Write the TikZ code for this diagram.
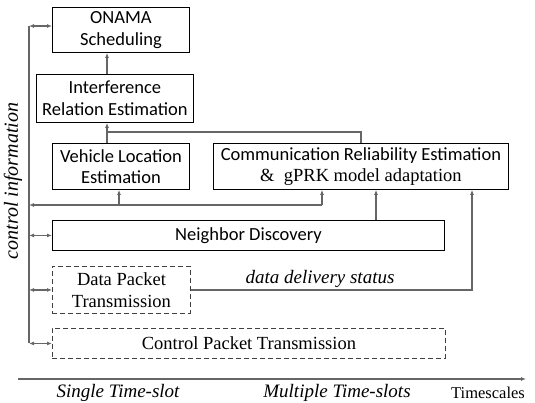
\documentclass[tikz,border=0pt]{standalone}
\usepackage{fontspec}
\setmainfont{Liberation Serif}
\newfontfamily\boxsans{Carlito}
\usetikzlibrary{arrows.meta,calc}

\tikzset{
  wire/.style={draw=black!60, line width=1.1pt},
  tip/.style={-{Latex[length=5pt,width=4pt]}},
  twotip/.style={{Latex[length=5pt,width=4pt]}-{Latex[length=5pt,width=4pt]}},
  sbox/.style={draw=black, line width=0.9pt, anchor=north west, inner sep=0pt,
               align=center, font=\boxsans\fontsize{18.5}{21.5}\selectfont},
  dbox/.style={draw=black!75, line width=0.9pt, dashed, dash pattern=on 5pt off 3pt,
               anchor=north west, inner sep=0pt, align=center,
               font=\fontsize{18.5}{21.5}\selectfont},
  lbl/.style={font=\itshape\fontsize{19}{22}\selectfont, inner sep=0pt}
}

\begin{document}
\begin{tikzpicture}[x=1pt,y=-1pt]
\useasboundingbox (0,0) rectangle (535,403);

% processing blocks
\node[sbox, minimum width=137pt, minimum height=45pt] (onama) at (52,7) {ONAMA\\Scheduling};
\node[sbox, minimum width=157pt, minimum height=48pt] (interf) at (36,74) {Interference\\Relation Estimation};
\node[sbox, minimum width=137pt, minimum height=46pt] (vehicle) at (52,143) {Vehicle Location\\Estimation};
\node[sbox, minimum width=295pt, minimum height=46pt] (comm) at (213,143)
  {Communication Reliability Estimation\\{\rmfamily\&\ \ gPRK model adaptation}};
\node[sbox, minimum width=392pt, minimum height=30pt] (neigh) at (52,220) {Neighbor Discovery};
\node[dbox, minimum width=138pt, minimum height=47pt] (data) at (52,266) {Data Packet\\Transmission};
\node[dbox, minimum width=393pt, minimum height=30pt] (ctrl) at (52,328) {Control Packet Transmission};

% column and row helpers
\coordinate (bus) at (29,0);
\coordinate (cA) at (107,0);
\coordinate (cB) at (119,0);
\coordinate (cC) at (322,0);
\coordinate (cD) at (361,0);
\coordinate (cE) at (376,0);
\coordinate (cF) at (472,0);
\coordinate (rTop) at (0,26);
\coordinate (rJoin) at (0,132);
\coordinate (rFeed) at (0,205);

% upward data flow
\draw[wire, tip] (cA |- interf.north) -- (cA |- onama.south);
\draw[wire, tip] (cA |- vehicle.north) -- (cA |- interf.south);
\draw[wire] (cD |- comm.north) |- (cA |- rJoin);
\draw[wire, tip] (cC |- rFeed) -- (cC |- comm.south);
\draw[wire, tip] (cB |- rFeed) -- (cB |- vehicle.south);
\draw[wire, tip] (cE |- neigh.north) -- (cE |- comm.south);
\draw[wire, tip] (data.east) -| (cF |- comm.south);
\node[lbl] (status) at (320,279) {data delivery status};

% control information bus
\draw[wire] (bus |- rTop) -- (bus |- ctrl.west);
\draw[wire, twotip] (bus |- rTop) -- (onama.west |- rTop);
\draw[wire, tip] (cC |- rFeed) -- (bus |- rFeed);
\draw[wire, twotip] (bus |- neigh.west) -- (neigh.west);
\draw[wire, twotip] (bus |- data.west) -- (data.west);
\draw[wire, twotip] (bus |- ctrl.west) -- (ctrl.west);
\node[lbl, rotate=90, font=\itshape\fontsize{20}{23}\selectfont] (ctrlinfo) at (13,181) {control information};

% timescale axis
\coordinate (axL) at (18,379);
\coordinate (axR) at (526,379);
\draw[wire, tip] (axL) -- (axR);
\node[lbl] (single) at (118,393) {Single Time-slot};
\node[lbl] (multi) at (337,393) {Multiple Time-slots};
\node[font=\fontsize{16.5}{19}\selectfont, inner sep=0pt] (tscale) at (488,393) {Timescales};
\end{tikzpicture}
\end{document}
